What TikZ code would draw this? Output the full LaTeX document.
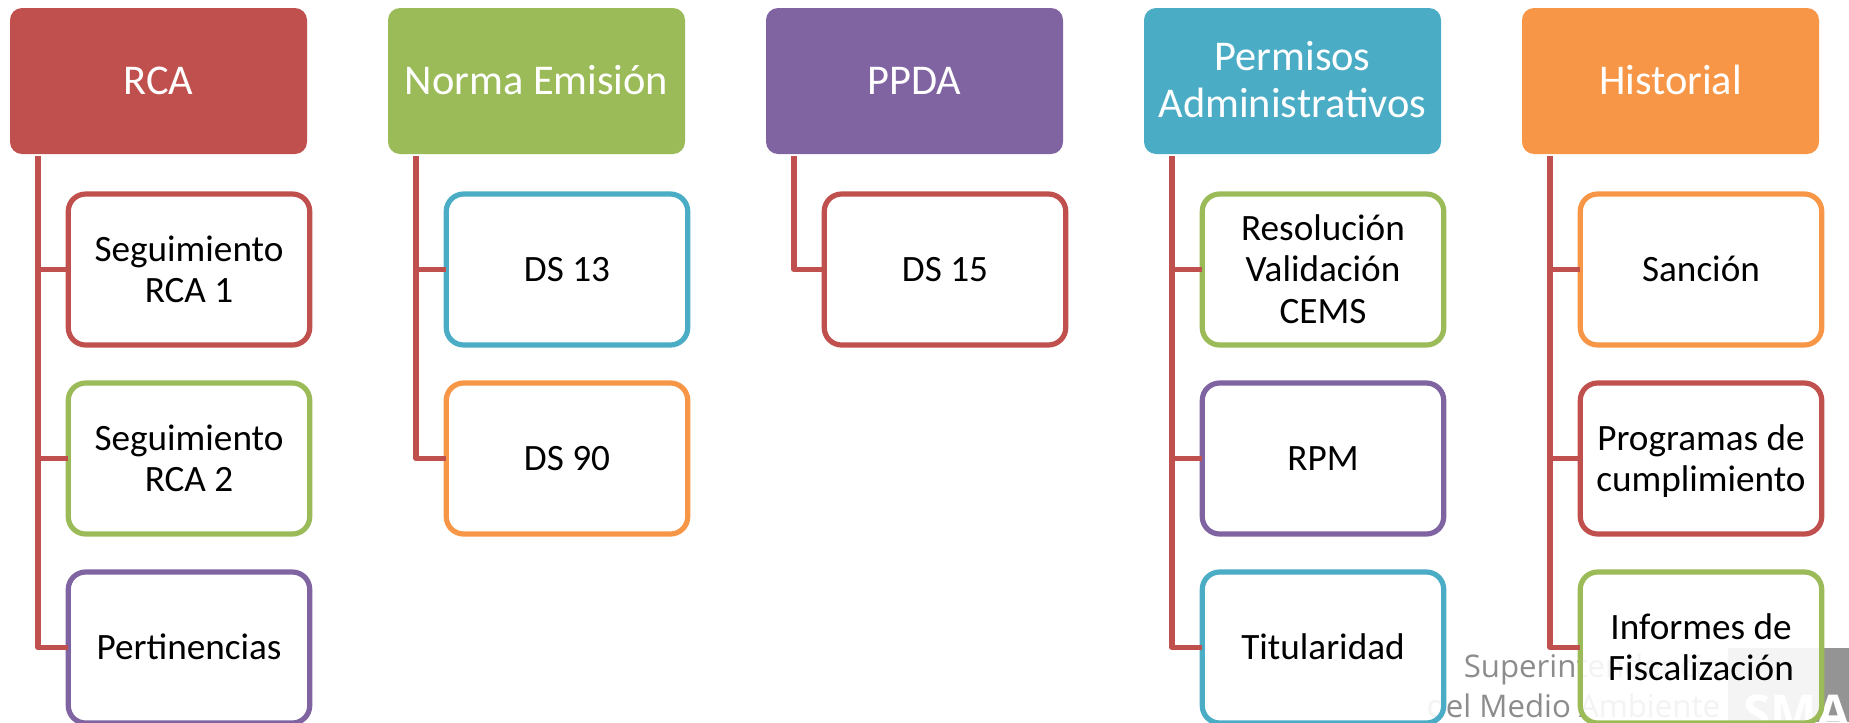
\documentclass[tikz,border=0pt]{standalone}
\usepackage{fontspec}
\setmainfont{Carlito}
\newfontfamily\wmfont{Open Sans}
\usetikzlibrary{calc}
\definecolor{cred}{HTML}{C0504D}
\definecolor{cgreen}{HTML}{9BBB59}
\definecolor{cpurple}{HTML}{8064A2}
\definecolor{cblue}{HTML}{4BACC6}
\definecolor{corange}{HTML}{F79646}
\newcommand{\lowstrut}{\rule[-.3\baselineskip]{0pt}{\dimexpr\baselineskip+6pt\relax}}
\tikzset{
  headbox/.style={fill=#1,draw=none,rounded corners=9pt,minimum width=222.75pt,minimum height=109.5pt,inner sep=0pt,outer sep=0pt,text width=215pt,align=flush center,text=white,font=\fontsize{31.8}{35.25}\selectfont,execute at begin node=\lowstrut,execute at end node=\strut},
  childbox/.style={draw=#1,line width=3.9pt,fill=white,fill opacity=.9,text opacity=1,rounded corners=13pt,minimum width=181.1pt,minimum height=113.25pt,inner sep=0pt,outer sep=0pt,text width=176pt,align=flush center,text=black,font=\fontsize{27.9}{31.2}\selectfont,execute at begin node=\lowstrut,execute at end node=\strut},
  conn/.style={draw=cred,line width=4.1pt,line join=round},
  wmark/.style={inner sep=0pt,outer sep=0pt,text=black!45,font=\wmfont\fontsize{23.4}{28}\selectfont,anchor=base east}
}
\begin{document}
\begin{tikzpicture}[x=.75pt,y=-.75pt]
\useasboundingbox (0,0) rectangle (1849,722);
\begin{scope}
\clip (0,0) rectangle (1849,722);
\fill[black!42] (1728,648) rectangle (1849,722);
\node[inner sep=0pt,outer sep=0pt,text=white,font=\wmfont\bfseries\fontsize{37}{37}\selectfont,anchor=base west] (logo) at (1743,730) {SMA};
\node[wmark] (wm1) at (1720,677) {Superintendencia};
\node[wmark] (wm2) at (1720,717) {del Medio Ambiente};

% headers
\node[headbox=cred] (h1) at (158.5,81) {RCA};
\node[headbox=cgreen] (h2) at (536.5,81) {Norma Emisión};
\node[headbox=cpurple] (h3) at (914.5,81) {PPDA};
\node[headbox=cblue] (h4) at (1292.5,81) {Permisos\\Administrativos};
\node[headbox=corange] (h5) at (1670.5,81) {Historial};

% connector anchors
\coordinate (t1) at ($(h1.south west)+(28,2)$);
\coordinate (t2) at ($(h2.south west)+(28,2)$);
\coordinate (t3) at ($(h3.south west)+(28,2)$);
\coordinate (t4) at ($(h4.south west)+(28,2)$);
\coordinate (t5) at ($(h5.south west)+(28,2)$);

% children
\node[childbox=cred] (c11) at (189,269.5) {Seguimiento\\RCA 1};
\node[childbox=cgreen] (c12) at (189,458.5) {Seguimiento\\RCA 2};
\node[childbox=cpurple] (c13) at (189,647.5) {Pertinencias};
\node[childbox=cblue] (c21) at (567,269.5) {DS 13};
\node[childbox=corange] (c22) at (567,458.5) {DS 90};
\node[childbox=cred] (c31) at (945,269.5) {DS 15};
\node[childbox=cgreen] (c41) at (1323,269.5) {Resolución\\Validación\\CEMS};
\node[childbox=cpurple] (c42) at (1323,458.5) {RPM};
\node[childbox=cblue] (c43) at (1323,647.5) {Titularidad};
\node[childbox=corange] (c51) at (1701,269.5) {Sanción};
\node[childbox=cred] (c52) at (1701,458.5) {Programas de\\cumplimiento};
\node[childbox=cgreen] (c53) at (1701,647.5) {Informes de\\Fiscalización};

% connectors
\draw[conn] (t1) |- (c11.west);
\draw[conn] (t1) |- (c12.west);
\draw[conn] (t1) |- (c13.west);
\draw[conn] (t2) |- (c21.west);
\draw[conn] (t2) |- (c22.west);
\draw[conn] (t3) |- (c31.west);
\draw[conn] (t4) |- (c41.west);
\draw[conn] (t4) |- (c42.west);
\draw[conn] (t4) |- (c43.west);
\draw[conn] (t5) |- (c51.west);
\draw[conn] (t5) |- (c52.west);
\draw[conn] (t5) |- (c53.west);
\end{scope}
\end{tikzpicture}
\end{document}
